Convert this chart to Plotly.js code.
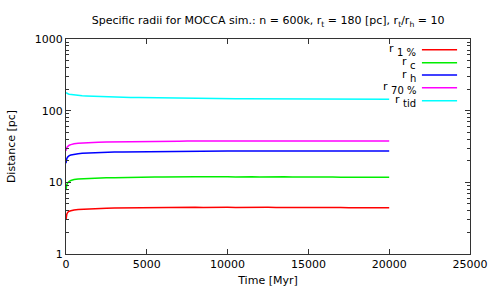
<!DOCTYPE html>
<html>
<head>
<meta charset="utf-8">
<script src="https://cdn.plot.ly/plotly-3.0.1.min.js"></script>
<style>html,body{margin:0;padding:0;background:#fff;}#chart{width:491px;height:294px;}</style>
</head>
<body>
<div id="chart"></div>
<script>
const time = [0,25,50,100,150,200,300,400,500,750,1000,1250,1500,1750,
  2000,2500,3000,3500,4000,4500,5000,5500,6000,6500,7000,7500,8000,8500,9000,9500,
  10000,10500,11000,11500,12000,12500,13000,13500,14000,14500,15000,15500,16000,16500,
  17000,17500,18000,18500,19000,19500,20000];

const r1 = [3.0,3.4,3.6,3.8,3.9,3.95,4.02,4.08,4.12,4.18,4.22,4.26,4.29,4.31,
  4.33,4.36,4.38,4.40,4.42,4.43,4.45,4.46,4.44,4.47,4.48,4.46,4.49,4.47,4.50,4.48,
  4.49,4.47,4.50,4.48,4.46,4.49,4.47,4.48,4.46,4.47,4.45,4.47,4.44,4.46,4.45,4.43,
  4.45,4.43,4.44,4.42,4.43];

const rc = [7.8,8.8,9.3,9.8,10.1,10.3,10.6,10.8,10.95,11.1,11.2,11.3,11.35,11.4,
  11.45,11.55,11.6,11.7,11.75,11.8,11.85,11.9,11.85,11.95,12.0,11.9,12.0,11.95,12.05,11.95,
  12.0,11.9,12.0,11.95,11.9,12.0,11.9,11.95,11.85,11.9,11.85,11.9,11.8,11.85,11.8,11.75,
  11.8,11.75,11.8,11.7,11.75];

const rh = [18.5,20.5,21.5,22.5,23.2,23.6,24.1,24.4,24.7,25.1,25.4,25.6,25.8,25.95,
  26.1,26.3,26.45,26.6,26.7,26.8,26.9,26.95,27.0,27.05,27.1,27.15,27.2,27.2,27.25,27.25,
  27.3,27.3,27.3,27.35,27.35,27.35,27.4,27.4,27.4,27.4,27.4,27.45,27.45,27.45,27.45,27.45,
  27.45,27.45,27.45,27.45,27.45];

const r70 = [27.5,29.5,30.5,31.5,32.3,32.9,33.6,34.1,34.5,35.0,35.4,35.7,35.9,36.1,
  36.3,36.6,36.8,37.0,37.1,37.2,37.3,37.4,37.45,37.5,37.55,37.6,37.6,37.65,37.7,37.7,
  37.7,37.75,37.75,37.75,37.8,37.8,37.8,37.8,37.8,37.8,37.8,37.8,37.8,37.8,37.8,37.8,
  37.8,37.8,37.8,37.8,37.8];

const rtid = [178,176,175,173,171,169.5,168,166.5,165,163,161.5,160.5,159.5,158.5,
  157.5,156,155,154,153,152.2,151.5,150.8,150.2,149.7,149.2,148.8,148.4,148,147.7,147.4,
  147.1,146.8,146.6,146.4,146.2,146,145.8,145.6,145.5,145.4,145.3,145.2,145.1,145,145,144.9,
  144.9,144.8,144.8,144.7,144.7];

const seriesSubs = ['1 %','c','h','70 %','tid'];
const seriesData = [r1, rc, rh, r70, rtid];
const seriesColors = ['#ff0000','#00ee00','#0000ff','#ff00ff','#00ffff'];

const xTicks = [0,5000,10000,15000,20000,25000];
const yTicks = [1,10,100,1000];
const yMinor = [2,3,4,5,6,7,8,9,20,30,40,50,60,70,80,90,200,300,400,500,600,700,800,900];

const traces = seriesData.map((d,i)=>({
  x: time, y: d, type:'scatter', mode:'lines', name: 'r ' + seriesSubs[i],
  line:{color: seriesColors[i], width:1.5}, showlegend:false, hoverinfo:'skip'
}));

const annotations = [];
const shapes = [];
const legY = [0.950,0.890,0.832,0.773,0.713];
seriesSubs.forEach((s,i)=>{
  annotations.push({xref:'paper',yref:'paper',x:0.872,y:legY[i]-0.002,xanchor:'right',yanchor:'middle',
    text:'r <sub><sub><span style="font-size:10px">'+s+'</span></sub></sub>',showarrow:false,
    font:{family:'DejaVu Sans',size:11,color:'#000'}});
  shapes.push({type:'line',xref:'paper',yref:'paper',x0:0.881,x1:0.968,y0:legY[i],y1:legY[i],
    line:{color:seriesColors[i],width:1.5}});
});

const layout = {
  width:491,height:294,
  margin:{l:66,r:21,t:39,b:40},
  paper_bgcolor:'#fff',plot_bgcolor:'#fff',
  font:{family:'DejaVu Sans',size:11,color:'#000'},
  title:{text:'Specific radii for MOCCA sim.: n = 600k, r<sub>t</sub> = 180 [pc], r<sub>t</sub>/r<sub>h</sub> = 10',
    font:{family:'DejaVu Sans',size:11,color:'#000'},x:0.546,xanchor:'center',y:0.93,yanchor:'middle'},
  xaxis:{range:[0,25000],tickvals:xTicks,ticktext:xTicks.map(String),ticks:'inside',ticklen:5,
    tickcolor:'#333',showline:true,linecolor:'#333',linewidth:1,mirror:'ticks',showgrid:false,zeroline:false,
    title:{text:'Time [Myr]',font:{family:'DejaVu Sans',size:11},standoff:6},tickfont:{size:11}},
  yaxis:{type:'log',range:[0,3],tickvals:yTicks,ticktext:yTicks.map(String),ticks:'inside',ticklen:5,
    tickcolor:'#333',showline:true,linecolor:'#333',linewidth:1,mirror:'ticks',showgrid:false,zeroline:false,
    minor:{tickvals:yMinor,ticks:'inside',ticklen:3,tickcolor:'#333',showgrid:false},
    title:{text:'Distance [pc]',font:{family:'DejaVu Sans',size:11},standoff:16},tickfont:{size:11}},
  annotations:annotations,shapes:shapes
};

Plotly.newPlot('chart',traces,layout,{displayModeBar:false,staticPlot:true});
</script>
</body>
</html>
